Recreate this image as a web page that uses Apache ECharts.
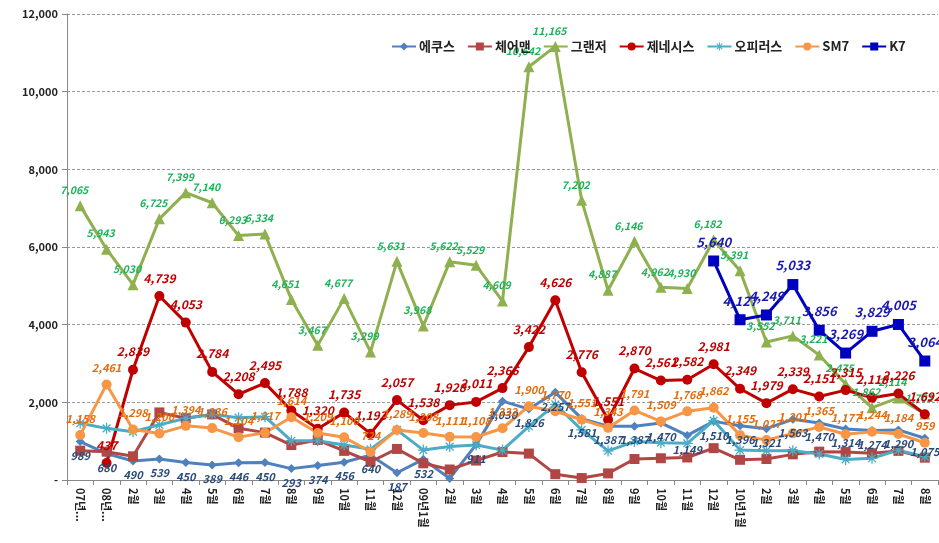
<!DOCTYPE html>
<html>
<head>
<meta charset="utf-8">
<script src="https://cdn.jsdelivr.net/npm/echarts@6/dist/echarts.min.js"></script>
<style>html,body{margin:0;padding:0;background:#fff}#c{width:939px;height:543px}</style>
</head>
<body>
<div id="c"></div>
<script>
const categories = ['07년...','08년...','2월','3월','4월','5월','6월','7월','8월','9월','10월','11월','12월','09년1월','2월','3월','4월','5월','6월','7월','8월','9월','10월','11월','12월','10년1월','2월','3월','4월','5월','6월','7월','8월'];
const yTicks = [0, 2000, 4000, 6000, 8000, 10000, 12000];
const equus = [989,680,490,539,450,389,446,450,293,374,456,640,187,532,40,911,2030,1826,2257,1581,1387,1387,1470,1149,1510,1396,1321,1563,1470,1314,1274,1290,1075];
const chairman = [755,730,610,1740,1590,1690,1330,1220,900,1030,750,470,800,430,270,500,720,680,150,50,170,540,560,580,820,520,540,660,730,720,690,750,575];
const grandeur = [7065,5943,5030,6725,7399,7140,6293,6334,4651,3467,4677,3299,5631,3968,5622,5529,4609,10642,11165,7202,4887,6146,4962,4930,6182,5391,3552,3711,3221,2475,1862,2114,1702];
const genesis = [null,437,2839,4739,4053,2784,2208,2495,1788,1320,1735,1193,2057,1538,1928,2011,2366,3422,4626,2776,1551,2870,2561,2582,2981,2349,1979,2339,2151,2315,2118,2226,1692];
const opirus = [1460,1330,1245,1420,1590,1690,1605,1630,1010,1010,900,790,1290,770,860,900,770,1380,1950,1290,750,990,960,945,1530,770,755,755,670,530,560,770,600];
const sm7 = [1158,2461,1298,1200,1394,1336,1104,1217,1614,1209,1100,724,1289,1208,1111,1108,1332,1900,1770,1551,1343,1791,1509,1768,1862,1155,1027,1201,1365,1177,1244,1184,959];
const k7 = [null,null,null,null,null,null,null,null,null,null,null,null,null,null,null,null,null,null,null,null,null,null,null,null,5640,4127,4249,5033,3856,3269,3829,4005,3064];

const fmt = v => Number(v).toLocaleString('en-US');
const FONT = '"Noto Sans CJK KR", "Noto Sans", sans-serif';
const asterisk = 'path://M-0.7,-6 L0.7,-6 L0.7,6 L-0.7,6 Z M-6,-0.7 L6,-0.7 L6,0.7 L-6,0.7 Z M-4.7,-3.7 L-3.7,-4.7 L4.7,3.7 L3.7,4.7 Z M3.7,-4.7 L4.7,-3.7 L-3.7,4.7 L-4.7,3.7 Z';

function lbl(color, pos, size, offset) {
  return {show: true, position: pos, color: color, fontStyle: 'italic', fontWeight: 'bold',
    fontSize: size, fontFamily: FONT, offset: offset || [0,0], formatter: p => fmt(p.value)};
}
function mk(name, data, color, symbol, size, label) {
  return {name: name, type: 'line', data: data, symbol: symbol, symbolSize: size,
    showAllSymbol: true, connectNulls: false,
    lineStyle: {color: color, width: 3}, itemStyle: {color: color},
    label: label || {show: false}, emphasis: {disabled: true}, z: 2};
}

const chart = echarts.init(document.getElementById('c'), null, {renderer: 'canvas'});
chart.setOption({
  animation: false,
  backgroundColor: '#fff',
  grid: {left: 67, right: 1, top: 14, bottom: 63, containLabel: false},
  legend: {
    top: 35, left: 386, width: 553, itemGap: 12, itemWidth: 24, itemHeight: 10,
    textStyle: {fontFamily: FONT, fontSize: 13, fontWeight: 'bold', color: '#222', padding: [0,0,0,-2]},
    data: ['에쿠스','체어맨','그랜저','제네시스','오피러스','SM7','K7']
  },
  xAxis: {
    type: 'category', data: categories, boundaryGap: true,
    axisLine: {lineStyle: {color: '#888', width: 1}},
    axisTick: {show: true, alignWithLabel: false, length: 5, lineStyle: {color: '#888'}},
    axisLabel: {rotate: -90, interval: 0, margin: 8, fontSize: 11, fontWeight: 'bold', color: '#222', fontFamily: FONT},
    splitLine: {show: false}
  },
  yAxis: {
    type: 'value', min: yTicks[0], max: yTicks[yTicks.length-1], interval: yTicks[1]-yTicks[0],
    axisLine: {show: true, lineStyle: {color: '#888'}},
    axisTick: {show: true, length: 5, lineStyle: {color: '#888'}},
    axisLabel: {fontSize: 11, fontWeight: 'bold', color: '#222', fontFamily: FONT, margin: 9,
      formatter: v => v === 0 ? '-' : fmt(v)},
    splitLine: {show: true, lineStyle: {color: '#999', type: [3,2], width: 1}}
  },
  series: [
    mk('에쿠스', equus.map(v => ({value: v, label: {show: v >= 100}})), '#4f81bd', 'diamond', 9, lbl('#2a4a7a', 'bottom', 11, [0,-1])),
    mk('체어맨', chairman, '#b04744', 'rect', 10),
    mk('그랜저', grandeur, '#8fb04f', 'triangle', 11, lbl('#1db35a', 'top', 10.5, [-6,0])),
    mk('제네시스', genesis, '#c00000', 'circle', 10, lbl('#c00000', 'top', 12, [0,-2])),
    mk('오피러스', opirus, '#4bacc6', asterisk, 11),
    mk('SM7', sm7, '#f79646', 'circle', 10, lbl('#e46c0a', 'top', 11, [0,-1])),
    mk('K7', k7, '#0000c0', 'rect', 11, lbl('#1a1ab0', 'top', 13, [0,-2]))
  ]
});
</script>
</body>
</html>
